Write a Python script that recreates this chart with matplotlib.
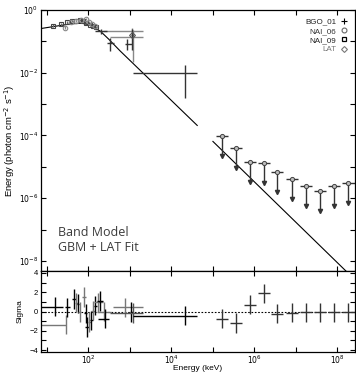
import numpy as np
import matplotlib
matplotlib.use('Agg')
import matplotlib.pyplot as plt
from matplotlib.lines import Line2D
from matplotlib.ticker import FixedLocator, FuncFormatter, NullLocator

plt.rcParams['font.family'] = ['Liberation Sans', 'DejaVu Sans']

# model line (GBM part and LAT part)
model_gbm_E = [7.4, 20, 40, 71, 112, 200, 316, 589, 42700]
model_gbm_F = [0.257, 0.316, 0.363, 0.380, 0.331, 0.209, 0.117, 0.050, 2.09e-4]
model_lat_E = [1.02e5, 2.7e8]
model_lat_F = [6.46e-5, 2.5e-9]

# NAI_09 (squares)
nai09_E = [14.5, 22.4, 31.6, 41.7, 52.5, 63.1, 75.9, 91.2, 110, 132, 158]
nai09_F = [0.32, 0.35, 0.40, 0.44, 0.46, 0.47, 0.43, 0.38, 0.34, 0.30, 0.28]
nai09_dF = [0.03, 0.03, 0.03, 0.03, 0.03, 0.03, 0.03, 0.03, 0.03, 0.03, 0.03]

# NAI_06 (circles)
nai06_E = [27.5, 38, 50, 66, 89, 105, 126, 151]
nai06_F = [0.27, 0.40, 0.45, 0.47, 0.52, 0.40, 0.35, 0.30]
nai06_dF = [0.03, 0.03, 0.03, 0.04, 0.05, 0.04, 0.04, 0.04]

# BGO_01 (crosses)
bgo_E = [205, 340, 850, 1150, 22000]
bgo_Elo = [150, 280, 780, 1100, 1200]
bgo_Ehi = [280, 420, 1150, 1200, 42500]
bgo_F = [0.21, 0.089, 0.083, 0.16, 0.010]
bgo_Flo = [0.17, 0.050, 0.055, 0.054, 0.0016]
bgo_Fhi = [0.25, 0.13, 0.12, 0.25, 0.0178]

# wide high-energy gray bins
wide_E = [1150, 1200]
wide_Elo = [230, 340]
wide_Ehi = [2150, 2150]
wide_F = [0.21, 0.138]
wide_Flo = [0.17, 0.022]
wide_Fhi = [0.26, 0.23]

# LAT upper limits
lat_E = [1.7e5, 3.7e5, 7.9e5, 1.74e6, 3.55e6, 8.3e6, 1.78e7, 3.9e7, 8.5e7, 1.86e8]
lat_F = [9.3e-5, 3.9e-5, 1.38e-5, 1.29e-5, 6.8e-6, 4.0e-6, 2.4e-6, 1.66e-6, 2.4e-6, 3.0e-6]

# residuals
res_E = [15.8, 29.5, 31.6, 45.7, 52.5, 57.5, 63.1, 79.4, 95.5, 87.1, 107, 120, 132, 151, 178, 190, 240, 251, 760, 1100, 1200, 21900]
res_Elo = [7.4, 7.4, 28, 40, 48, 53, 58, 72, 86, 80, 98, 110, 120, 138, 140, 160, 160, 170, 400, 1000, 340, 1200]
res_Ehi = [25, 30, 36, 52, 58, 62, 69, 87, 105, 95, 117, 130, 145, 165, 230, 230, 360, 320, 2150, 1200, 2150, 42500]
res_S = [0.5, -1.35, 0.45, 1.3, 0.9, 0.8, -0.05, 1.5, -1.6, -0.2, -1.1, -0.9, 0.1, 0.6, 0.95, 1.1, 0.0, -0.75, 0.45, -0.05, -0.15, -0.45]
res_col = ['k', '#777777', 'k', 'k', '#777777', 'k', '#777777', '#777777', 'k', 'k', '#777777', 'k', '#777777', 'k', '#777777', 'k', '#777777', 'k', '#777777', 'k', '#555555', 'k']

lat_res_S = [-0.75, -1.2, 0.72, 1.88, -0.24, -0.13, -0.07, -0.07, -0.07, -0.07]

fig = plt.figure(figsize=(3.56, 3.73), dpi=100)
ax = fig.add_axes([41/356, 1-271/373, 314/356, 261/373])
ax2 = fig.add_axes([41/356, 1-352/373, 314/356, 81/373], sharex=ax)

xlim = (7.36, 2.7e8)

# top panel
ax.plot(model_gbm_E, model_gbm_F, color='k', lw=0.8)
ax.plot(model_lat_E, model_lat_F, color='k', lw=0.8)

def hx(E, lo, hi):
    return [np.array(E) - np.array(lo), np.array(hi) - np.array(E)]

ax.errorbar(nai09_E, nai09_F, yerr=nai09_dF, fmt='s', ms=3.2, mfc='none', mec='#444444',
            ecolor='#666666', elinewidth=0.9, capsize=0, mew=0.8)
ax.errorbar(nai06_E, nai06_F, yerr=nai06_dF, fmt='o', ms=3.2, mfc='none', mec='#888888',
            ecolor='#888888', elinewidth=0.9, capsize=0, mew=0.8)
ax.errorbar(wide_E, wide_F, xerr=hx(wide_E, wide_Elo, wide_Ehi),
            yerr=hx(wide_F, wide_Flo, wide_Fhi), fmt='none', ecolor='#888888',
            elinewidth=1.0, capsize=0)
ax.errorbar(bgo_E, bgo_F, xerr=hx(bgo_E, bgo_Elo, bgo_Ehi),
            yerr=hx(bgo_F, bgo_Flo, bgo_Fhi), fmt='none', ecolor='#333333',
            elinewidth=1.0, capsize=0)
ax.plot([1150], [0.16], 'D', ms=3, mfc='none', mec='#555555', mew=0.8)

lat_F = np.array(lat_F)
lat_E = np.array(lat_E)
lat_x = [lat_E - lat_E/10**0.15, lat_E*10**0.15 - lat_E]
lat_low = lat_F*10**-0.63
ax.hlines(lat_F, lat_E/10**0.15, lat_E*10**0.15, color='#333333', lw=1.0)
ax.vlines(lat_E, lat_low, lat_F, color='#333333', lw=1.0)
ax.plot(lat_E, lat_low, ls='none', marker='v', ms=3, color='#333333')
ax.plot(lat_E, lat_F, ls='none', marker='o', ms=3, mfc='#bbbbbb', mec='#444444', mew=0.7)

ax.set_xscale('log')
ax.set_yscale('log')
ax.set_xlim(*xlim)
ax.set_ylim(10**-8.32, 1.0)
ax.set_ylabel('Energy (photon cm$^{-2}$ s$^{-1}$)', fontsize=6.8, labelpad=1)

ax.text(0.054, 0.065, 'Band Model\nGBM + LAT Fit', transform=ax.transAxes,
        fontsize=9, color='#3a3a3a', family=['Open Sans', 'DejaVu Sans'],
        va='bottom', ha='left', linespacing=1.2)

handles = [
    Line2D([], [], ls='none', marker='+', color='k', ms=4, mew=0.8),
    Line2D([], [], ls='none', marker='o', mfc='none', mec='#666666', ms=3.5, mew=0.8),
    Line2D([], [], ls='none', marker='s', mfc='none', mec='k', ms=3.5, mew=0.9),
    Line2D([], [], ls='none', marker='D', mfc='none', mec='#777777', ms=3, mew=0.8),
]
leg = ax.legend(handles, ['BGO_01', 'NAI_06', 'NAI_09', 'LAT'], loc='upper right',
                markerfirst=False, frameon=False, fontsize=5.8, handlelength=0.8,
                handletextpad=0.5, labelspacing=0.2, borderaxespad=0.6)
for t, c in zip(leg.get_texts(), ['#222222', '#333333', '#222222', '#777777']):
    t.set_color(c)

# bottom panel
ax2.axhline(0, color='k', lw=0.8, ls=(0, (1.5, 1.5)))
for E, lo, hi, s, c in zip(res_E, res_Elo, res_Ehi, res_S, res_col):
    ax2.errorbar([E], [s], xerr=[[E - lo], [hi - E]], yerr=1, fmt='none',
                 ecolor=c, elinewidth=1.0, capsize=0)
ax2.errorbar(lat_E, lat_res_S, xerr=lat_x, yerr=1, fmt='none', ecolor='#333333',
             elinewidth=1.0, capsize=0)
ax2.set_ylim(-4.2, 4.2)
ax2.set_ylabel('Sigma', fontsize=6, labelpad=4)
ax2.set_xlabel('Energy (keV)', fontsize=6, labelpad=-0.5)
ax2.set_yticks([-4, -3, -2, -1, 0, 1, 2, 3, 4])
ax2.set_yticklabels(['\u22124', '', '\u22122', '', '0', '', '2', '', '4'])

# ticks
decx = [10.0**k for k in range(1, 9)]
ax2.xaxis.set_major_locator(FixedLocator(decx))
ax2.xaxis.set_minor_locator(NullLocator())
ax2.xaxis.set_major_formatter(FuncFormatter(
    lambda v, p: '$10^{%d}$' % round(np.log10(v)) if round(np.log10(v)) % 2 == 0 else ''))
ax2.set_xlim(*xlim)

decy = [10.0**k for k in range(-8, 1)]
ax.yaxis.set_major_locator(FixedLocator(decy))
ax.yaxis.set_minor_locator(NullLocator())
ax.yaxis.set_major_formatter(FuncFormatter(
    lambda v, p: '$10^{%d}$' % round(np.log10(v)) if round(np.log10(v)) % 2 == 0 else ''))
ax.tick_params(axis='x', labelbottom=False)

for a in (ax, ax2):
    a.tick_params(which='both', direction='in', top=True, right=True, length=3.5,
                  width=0.8, labelsize=5.5, pad=2)
    for sp in a.spines.values():
        sp.set_linewidth(0.9)
ax2.tick_params(axis='x', pad=1.2)

fig.savefig('out.png', dpi=100)
